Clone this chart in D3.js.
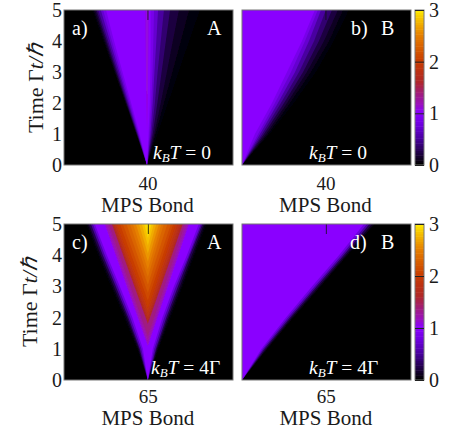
<!DOCTYPE html>
<html>
<head>
<meta charset="utf-8">
<script src="https://cdn.jsdelivr.net/npm/d3@7"></script>
<style>
  html, body { margin: 0; padding: 0; background: #fff; }
  text { font-family: "Liberation Serif", serif; fill: #1a1a1a; }
</style>
</head>
<body>
<svg id="chart" width="463" height="447"></svg>
<script>
// values: contours of the colour field, as half widths (in bonds) from the apex
const readTimes = [0, 1, 2, 3, 4, 5];
const timeTicks = [0, 1, 2, 3, 4, 5];
const colorTicks = [0, 1, 2, 3];

const colorLevels = [0, 0.25, 0.5, 0.75, 1, 1.15, 1.35, 1.6, 2, 2.5, 2.8, 3];
const colorStops = ["#000000", "#240050", "#4a00a0", "#6c00dc", "#8a00ff", "#9a10c0", "#a01c80",
  "#b02828", "#c83c00", "#e68000", "#f5c000", "#fff000"];

const levelsA = [0.03, 0.1, 0.2, 0.35, 0.5, 0.7, 0.85, 1, 1.08];
const leftA = [
  [0, 5.2, 10.4, 15.6, 20.8, 26.0],
  [0, 5.0, 10.1, 15.2, 20.2, 25.3],
  [0, 4.9, 9.8, 14.8, 19.7, 24.6],
  [0, 4.7, 9.6, 14.4, 19.1, 23.9],
  [0, 4.5, 9.2, 13.8, 18.4, 23.1],
  [0, 4.2, 8.7, 13.1, 17.5, 21.9],
  [0, 3.9, 8.1, 12.4, 16.6, 20.8],
  [0, 3.5, 7.5, 11.6, 15.6, 19.4],
  [0, 0, 0.3, 0.5, 0.7, 0.8]
];
const rightA = [
  [0, 5.0, 10.0, 15.0, 20.0, 25.1],
  [0, 4.0, 8.0, 12.0, 16.0, 19.9],
  [0, 3.4, 6.5, 9.4, 12.2, 15.1],
  [0, 2.7, 4.9, 6.9, 8.9, 10.9],
  [0, 2.1, 3.7, 5.0, 6.5, 8.0],
  [0, 1.6, 2.7, 3.5, 4.4, 5.2],
  [0, 1.1, 2.0, 2.6, 3.0, 3.3],
  [0, 0.7, 1.3, 1.6, 1.7, 1.7],
  [0, 0, 0.3, 0.5, 0.7, 0.8]
];

const levelsB = [0.03, 0.1, 0.2, 0.35, 0.5, 0.7, 0.85, 1];
const rightB = [
  [0, 13.2, 24.6, 35.0, 43.5, 50.6],
  [0, 12.3, 22.7, 32.6, 41.2, 47.8],
  [0, 11.4, 21.3, 30.7, 38.8, 45.4],
  [0, 10.4, 19.9, 28.9, 36.4, 42.6],
  [0, 9.5, 18.4, 27.0, 34.1, 39.7],
  [0, 8.5, 17.0, 25.1, 31.7, 37.4],
  [0, 7.6, 15.6, 23.2, 29.8, 35.9],
  [0, 6.1, 14.2, 21.3, 28.4, 34.5]
];

const levelsC = [0.03, 0.1, 0.25, 0.5, 0.75, 1];
const leftC = [
  [0, 8.5, 18.5, 28.5, 38.5, 47.7],
  [0, 7.7, 17.3, 27.3, 37.3, 46.5],
  [0, 6.9, 16.1, 26.1, 36.1, 45.4],
  [0, 6.2, 15.0, 24.6, 34.6, 43.8],
  [0, 5.0, 13.5, 23.1, 33.1, 42.3],
  [0, 3.8, 11.9, 21.5, 31.5, 40.8]
];
const rightC = [
  [0, 8.5, 17.7, 26.9, 36.1, 45.4],
  [0, 7.7, 16.5, 25.8, 35.0, 44.2],
  [0, 6.9, 15.4, 24.6, 33.8, 43.1],
  [0, 6.2, 14.2, 23.1, 32.3, 41.9],
  [0, 5.0, 12.7, 21.5, 31.5, 40.8],
  [0, 3.8, 11.2, 20.0, 30.0, 39.2]
];
// the hot core of panel c: time each level first appears, half widths at t = 5
const coreLevelsC = [1.15, 1.25, 1.35, 1.6, 1.7, 1.8, 1.9, 2, 2.1, 2.2, 2.3, 2.4, 2.5, 2.6, 2.7, 2.8, 2.9, 2.97];
const coreStartC = [1.1, 1.25, 1.4, 1.8, 1.9, 2.0, 2.15, 2.3, 2.55, 2.8, 3.05, 3.3, 3.55, 3.8, 4.05, 4.3, 4.55, 4.85];
const coreLeftC = [33.1, 31.5, 30.0, 27.7, 26.9, 26.1, 25.0, 23.8, 21.5, 19.2, 16.5, 13.8, 11.5, 9.2, 6.9, 4.6, 2.8, 1.2];
const coreRightC = [31.5, 30.0, 28.5, 26.9, 25.8, 24.6, 23.0, 21.5, 19.6, 17.7, 15.0, 12.3, 10.4, 8.5, 6.5, 4.6, 2.8, 1.2];

const levelsD = [0.03, 0.1, 0.25, 0.5, 0.75, 1];
const rightD = [
  [0, 20.0, 40.0, 60.8, 81.5, 102.3],
  [0, 19.2, 39.2, 60.0, 80.7, 101.5],
  [0, 18.5, 38.1, 58.9, 79.6, 100.0],
  [0, 17.3, 36.9, 57.3, 78.1, 98.0],
  [0, 16.2, 35.4, 55.8, 76.5, 96.1],
  [0, 15.0, 33.8, 53.8, 74.6, 93.8]
];

// turn a table of half widths into contour objects
function contours(levels, apex, left, right) {
  return levels.map((level, i) => ({
    level: level,
    points: readTimes.map((t, j) => ({
      t: t,
      x0: apex - (left ? left[i][j] : 0),
      x1: apex + right[i][j]
    }))
  }));
}

const coreC = coreLevelsC.map((level, i) => ({
  level: level,
  points: [
    { t: coreStartC[i], x0: 65, x1: 65 },
    { t: 5, x0: 65 - coreLeftC[i], x1: 65 + coreRightC[i] }
  ]
}));

const panels = [
  { id: "a", left: 64, top: 10, bottom: 165, maxBond: 80.5, bondTick: 40, tickY: 25, labelY: 47, name: "a)", nameX: 72, site: "A", siteX: 207,
    temp: "0", tempX: 153, data: contours(levelsA, 39.8, leftA, rightA) },
  { id: "b", left: 242, top: 10, bottom: 165, maxBond: 80.5, bondTick: 40, tickY: 25, labelY: 47, name: "b)", nameX: 351, site: "B", siteX: 381,
    temp: "0", tempX: 309, data: contours(levelsB, 0.5, null, rightB) },
  { id: "c", left: 64, top: 224, bottom: 380, maxBond: 130.5, bondTick: 65, tickY: 23, labelY: 45, name: "c)", nameX: 72, site: "A", siteX: 207,
    temp: "4Γ", tempX: 151, data: contours(levelsC, 65, leftC, rightC).concat(coreC) },
  { id: "d", left: 242, top: 224, bottom: 380, maxBond: 130.5, bondTick: 65, tickY: 23, labelY: 45, name: "d)", nameX: 350, site: "B", siteX: 381,
    temp: "4Γ", tempX: 309, data: contours(levelsD, 0.5, null, rightD) }
];

const panelWidth = 169;
const fontSize = 20;

const color = d3.scaleLinear().domain(colorLevels).range(colorStops);
const svg = d3.select("#chart");

// slight softening so the contour bands read as a continuous map
svg.append("filter")
  .attr("id", "soften")
  .attr("x", "-5%")
  .attr("y", "-5%")
  .attr("width", "110%")
  .attr("height", "110%")
  .append("feGaussianBlur")
  .attr("stdDeviation", 0.7);

panels.forEach(function (p) {
  const x = d3.scaleLinear().domain([0.5, p.maxBond]).range([p.left, p.left + panelWidth]);
  const y = d3.scaleLinear().domain([0, 5]).range([p.bottom, p.top]);

  const g = svg.append("g").attr("class", "panel-" + p.id);

  g.append("clipPath")
    .attr("id", "clip-" + p.id)
    .append("rect")
    .attr("x", p.left)
    .attr("y", p.top)
    .attr("width", panelWidth)
    .attr("height", p.bottom - p.top);

  g.append("rect")
    .attr("x", p.left)
    .attr("y", p.top)
    .attr("width", panelWidth)
    .attr("height", p.bottom - p.top)
    .attr("fill", "#000");

  const area = d3
    .area()
    .y((d) => y(d.t))
    .x0((d) => x(d.x0))
    .x1((d) => x(d.x1));

  g.append("g")
    .attr("clip-path", "url(#clip-" + p.id + ")")
    .append("g")
    .attr("filter", "url(#soften)")
    .selectAll("path")
    .data(p.data)
    .enter()
    .append("path")
    .attr("d", (d) => area(d.points))
    .attr("fill", (d) => color(d.level));

  // mirrored tick along the top
  const topAxis = g
    .append("g")
    .attr("transform", "translate(0," + p.top + ")")
    .call(d3.axisTop(x).tickValues([p.bondTick]).tickSize(-10).tickFormat(""));
  topAxis.select(".domain").remove();
  topAxis.selectAll("line").attr("stroke", "#111").attr("stroke-width", 0.8);

  g.append("rect")
    .attr("x", p.left)
    .attr("y", p.top)
    .attr("width", panelWidth)
    .attr("height", p.bottom - p.top)
    .attr("fill", "none")
    .attr("stroke", "#777")
    .attr("stroke-width", 1);

  const bottomAxis = g
    .append("g")
    .attr("transform", "translate(0," + p.bottom + ")")
    .call(d3.axisBottom(x).tickValues([p.bondTick]).tickSize(0).tickPadding(0));
  bottomAxis.select(".domain").remove();
  bottomAxis.selectAll("text").attr("font-size", 19).attr("font-family", null).attr("dy", null).attr("y", p.tickY);

  g.append("text")
    .attr("x", x(p.bondTick))
    .attr("y", p.bottom + p.labelY)
    .attr("text-anchor", "middle")
    .attr("font-size", 21)
    .text("MPS Bond");

  if (p.left == 64) {
    const leftAxis = g
      .append("g")
      .attr("transform", "translate(" + p.left + ",0)")
      .call(d3.axisLeft(y).tickValues(timeTicks).tickSize(0).tickPadding(2).tickFormat(d3.format("d")));
    leftAxis.select(".domain").remove();
    leftAxis.selectAll("text").attr("font-size", fontSize).attr("font-family", null);

    const title = g
      .append("text")
      .attr("transform", "translate(" + (p.id == "a" ? 43 : 37) + "," + (p.top + 78) + ") rotate(-90)")
      .attr("text-anchor", "middle")
      .attr("font-size", 22);
    title.append("tspan").text("Time Γ");
    title.append("tspan").attr("font-style", "italic").text("t/ℏ");
  }

  // panel annotations
  const notes = g.append("g").attr("class", "notes");
  notes.append("text").attr("x", p.nameX).attr("y", p.top + 25).attr("font-size", fontSize).style("fill", "#fff").text(p.name);
  notes.append("text").attr("x", p.siteX).attr("y", p.top + 25).attr("font-size", fontSize).style("fill", "#fff").text(p.site);

  const temp = notes
    .append("text")
    .attr("x", p.tempX)
    .attr("y", p.bottom - 6)
    .attr("font-size", 19.5)
    .style("fill", "#fff");
  temp.append("tspan").attr("font-style", "italic").text("k");
  temp.append("tspan").attr("font-style", "italic").attr("font-size", 13).attr("dy", 3).text("B");
  temp.append("tspan").attr("font-style", "italic").attr("dy", -3).text("T");
  temp.append("tspan").text(" = " + p.temp);

  // colour bar for each row
  if (p.left == 242) {
    const cy = d3.scaleLinear().domain([0, 3]).range([p.bottom, p.top]);
    const barLeft = 415, barWidth = 9;
    const steps = d3.range(0, 3, 3 / 64);
    g.append("g")
      .selectAll("rect")
      .data(steps)
      .enter()
      .append("rect")
      .attr("x", barLeft)
      .attr("width", barWidth)
      .attr("y", (d) => cy(d + 3 / 64))
      .attr("height", (d) => cy(d) - cy(d + 3 / 64) + 0.5)
      .attr("fill", (d) => color(d));
    g.append("rect")
      .attr("x", barLeft)
      .attr("y", p.top)
      .attr("width", barWidth)
      .attr("height", p.bottom - p.top)
      .attr("fill", "none")
      .attr("stroke", "#777");

    const barAxis = g
      .append("g")
      .attr("transform", "translate(" + (barLeft + barWidth) + ",0)")
      .call(d3.axisRight(cy).tickValues(colorTicks).tickSize(-barWidth).tickPadding(5).tickFormat(d3.format("d")));
    barAxis.select(".domain").remove();
    barAxis.selectAll("line").attr("stroke", "#222");
    barAxis.selectAll("text").attr("font-size", fontSize).attr("font-family", null);
  }
});
</script>
</body>
</html>
